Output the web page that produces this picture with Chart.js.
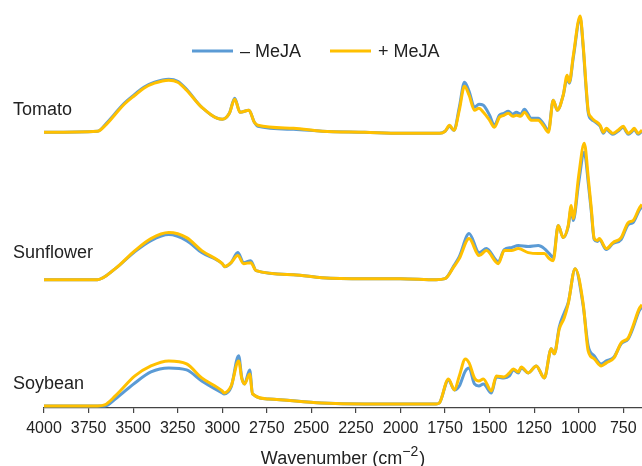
<!DOCTYPE html>
<html>
<head>
<meta charset="utf-8">
<script src="https://cdn.jsdelivr.net/npm/chart.js@4.4.1/dist/chart.umd.min.js"></script>
<style>
  html, body { margin: 0; padding: 0; background: #fff; }
  #wrap { width: 642px; height: 466px; }
</style>
</head>
<body>
<div id="wrap"><canvas id="ftir" width="642" height="466"></canvas></div>
<script>
// Tick labels on the wavenumber axis
const tickValues = [750, 1000, 1250, 1500, 1750, 2000, 2250, 2500, 2750, 3000, 3250, 3500, 3750, 4000];

const seriesNames = ["\u2013 MeJA", "+ MeJA"];
const sampleNames = ["Tomato", "Sunflower", "Soybean"];

// Tomato spectra (stacked, arbitrary units)
const tomatoWn = [4000, 3700, 3650, 3600, 3550, 3490, 3440, 3380, 3300, 3250, 3200, 3115, 3000, 2960, 2930, 2900, 2850, 2820, 2800, 2600, 2440, 2200, 2000, 1780,
  1750, 1725, 1700, 1670, 1641, 1615, 1585, 1560, 1535, 1500, 1473, 1445, 1420, 1395, 1370, 1350, 1325, 1305, 1266, 1227,
  1200, 1170, 1143, 1120, 1087, 1065, 1053, 1030, 992, 975, 958, 947, 930, 913, 880, 862, 845, 825, 808, 780,
  750, 735, 722, 700, 689, 667, 645];
const tomatoMinus = [275, 276, 284, 294, 304, 313, 320, 325, 328, 326, 318, 300, 288, 294, 309, 295, 297, 285, 281, 278, 276, 275, 274, 274,
  276, 281, 277, 300, 325, 316, 300, 303, 302, 292, 282, 292, 294, 296, 293, 295, 293, 298, 289, 289,
  284, 277, 307, 297, 312, 329, 324, 350, 389, 360, 317, 295, 288, 286, 281, 274, 278, 275, 273, 276,
  280, 276, 273, 276, 278, 273, 276];
const tomatoPlus = [275, 276, 283, 293, 303, 312, 319, 324, 327, 325, 317, 300, 288, 294, 308, 295, 297, 285, 282, 279, 276, 275, 274, 274,
  276, 282, 277, 297, 321, 312, 297, 299, 295, 287, 280, 290, 292, 294, 291, 292, 291, 295, 287, 287,
  282, 275, 307, 297, 312, 332, 325, 352, 391, 362, 320, 297, 290, 287, 282, 275, 279, 276, 274, 277,
  281, 277, 274, 277, 279, 274, 277];

// Sunflower spectra
const sunflowerWn = [4000, 3700, 3600, 3490, 3400, 3300, 3200, 3115, 3000, 2986, 2950, 2913, 2880, 2840, 2810, 2600, 2440, 2200, 2000, 1800,
  1750, 1700, 1670, 1615, 1559, 1518, 1451, 1418, 1378, 1339, 1283, 1227, 1193, 1165, 1143, 1115, 1087, 1059, 1042, 1031,
  1000, 969, 945, 930, 913, 895, 885, 845, 808, 762, 722, 695, 661, 645];
const sunflowerMinus = [128, 128, 139, 156, 167, 173, 167, 155, 144, 141, 145, 155, 145, 147, 137, 133, 130, 129, 129, 128,
  129, 142, 151, 174, 155, 159, 146, 158, 160, 162, 161, 162, 159, 154, 150, 182, 170, 181, 199, 187,
  225, 255, 222, 197, 168, 166, 168, 158, 164, 168, 183, 185, 197, 201];
const sunflowerPlus = [128, 128, 139, 157, 169, 175, 170, 157, 144, 141, 145, 152, 144, 145, 137, 133, 130, 129, 129, 128,
  129, 141, 149, 169, 152, 157, 144, 157, 157, 159, 155, 154, 154, 149, 147, 182, 170, 182, 202, 189,
  232, 264, 227, 200, 169, 167, 169, 159, 165, 170, 185, 187, 199, 203];

// Soybean spectra
const soybeanWn = [4000, 3700, 3660, 3600, 3490, 3400, 3300, 3200, 3115, 3000, 2990, 2950, 2908, 2890, 2875, 2846, 2830, 2740, 2443, 2200,
  2000, 1800, 1782, 1731, 1697, 1670, 1636, 1615, 1585, 1560, 1535, 1490, 1462, 1420, 1389, 1367, 1339, 1322, 1283, 1238,
  1193, 1154, 1137, 1109, 1081, 1059, 1020, 975, 947, 913, 874, 845, 802, 762, 722, 695, 661, 645];
const soybeanMinus = [2, 2, 2, 9, 25, 36, 40, 38, 27, 15, 14, 21, 52, 30, 24, 38, 14, 9, 5, 4,
  4, 4, 5, 28, 18, 22, 37, 40, 24, 22, 24, 15, 31, 30, 32, 38, 35, 40, 35, 42,
  30, 59, 54, 81, 95, 105, 139, 102, 62, 52, 44, 47, 51, 64, 69, 80, 97, 101];
const soybeanPlus = [2, 2, 3, 12, 32, 42, 47, 44, 30, 17, 15, 22, 47, 29, 24, 34, 14, 9, 5, 4,
  4, 4, 5, 29, 18, 32, 49, 45, 30, 27, 29, 17, 32, 31, 35, 39, 36, 41, 35, 42,
  30, 59, 54, 79, 90, 104, 139, 104, 57, 49, 42, 45, 50, 65, 70, 82, 99, 103];

const BLUE = "#5b9bd5";
const YELLOW = "#ffc000";
const FONT = "'Liberation Sans', Arial, Helvetica, sans-serif";

let toPoints = function(wn, vals) {
  return wn.map((w, i) => ({ x: w, y: vals[i] }));
};

let makeSet = function(label, wn, vals, color, order) {
  return {
    label: label,
    data: toPoints(wn, vals),
    borderColor: color,
    backgroundColor: color,
    borderWidth: 3,
    pointRadius: 0,
    fill: false,
    order: order,
    cubicInterpolationMode: "monotone"
  };
};

// draws the sample names, the legend and the axis title (with superscript)
const annotations = {
  id: "annotations",
  afterDraw(chart) {
    const ctx = chart.ctx;
    const area = chart.chartArea;
    ctx.save();
    ctx.fillStyle = "#222";
    ctx.font = "18px " + FONT;
    ctx.textAlign = "left";
    ctx.textBaseline = "alphabetic";
    const labelY = [115, 258, 389];
    sampleNames.forEach((name, i) => ctx.fillText(name, 13, labelY[i]));

    // legend
    const items = [
      { x: 192, color: BLUE, text: seriesNames[0] },
      { x: 330, color: YELLOW, text: seriesNames[1] }
    ];
    ctx.textBaseline = "middle";
    ctx.lineWidth = 3;
    for (let it of items) {
      ctx.strokeStyle = it.color;
      ctx.beginPath();
      ctx.moveTo(it.x, 51);
      ctx.lineTo(it.x + 41, 51);
      ctx.stroke();
      ctx.fillText(it.text, it.x + 48, 52);
    }

    // x axis title
    const main = "Wavenumber (cm";
    const sup = "\u22122";
    const tail = ")";
    ctx.textBaseline = "alphabetic";
    ctx.font = "18px " + FONT;
    const wMain = ctx.measureText(main).width;
    const wTail = ctx.measureText(tail).width;
    ctx.font = "14px " + FONT;
    const wSup = ctx.measureText(sup).width;
    let x = (area.left + area.right) / 2 - (wMain + wSup + wTail + 1) / 2;
    const base = 464;
    ctx.font = "18px " + FONT;
    ctx.fillText(main, x, base);
    x += wMain;
    ctx.font = "14px " + FONT;
    ctx.fillText(sup, x, base - 8);
    x += wSup + 1;
    ctx.font = "18px " + FONT;
    ctx.fillText(tail, x, base);
    ctx.restore();
  }
};

new Chart(document.getElementById("ftir"), {
  type: "line",
  data: {
    datasets: [
      makeSet("Tomato " + seriesNames[0], tomatoWn, tomatoMinus, BLUE, 1),
      makeSet("Tomato " + seriesNames[1], tomatoWn, tomatoPlus, YELLOW, 0),
      makeSet("Sunflower " + seriesNames[0], sunflowerWn, sunflowerMinus, BLUE, 1),
      makeSet("Sunflower " + seriesNames[1], sunflowerWn, sunflowerPlus, YELLOW, 0),
      makeSet("Soybean " + seriesNames[0], soybeanWn, soybeanMinus, BLUE, 1),
      makeSet("Soybean " + seriesNames[1], soybeanWn, soybeanPlus, YELLOW, 0)
    ]
  },
  options: {
    responsive: false,
    animation: false,
    devicePixelRatio: 1,
    layout: { padding: { left: 44, right: 0, top: 7, bottom: 21 } },
    plugins: {
      legend: { display: false },
      tooltip: { enabled: false }
    },
    scales: {
      x: {
        type: "linear",
        reverse: true,
        min: 645,
        max: 4000,
        afterBuildTicks: function(scale) {
          scale.ticks = tickValues.map(v => ({ value: v }));
        },
        grid: { drawOnChartArea: false, drawTicks: true, tickLength: 5, color: "#444", lineWidth: 1.2 },
        border: { display: true, color: "#444", width: 1.2 },
        ticks: {
          color: "#222",
          font: { family: FONT, size: 16, lineHeight: 1 },
          padding: 8,
          maxRotation: 0,
          autoSkip: false,
          callback: v => String(v)
        },
        title: { display: false }
      },
      y: { display: false, min: 0, max: 400 }
    }
  },
  plugins: [annotations]
});
</script>
</body>
</html>
